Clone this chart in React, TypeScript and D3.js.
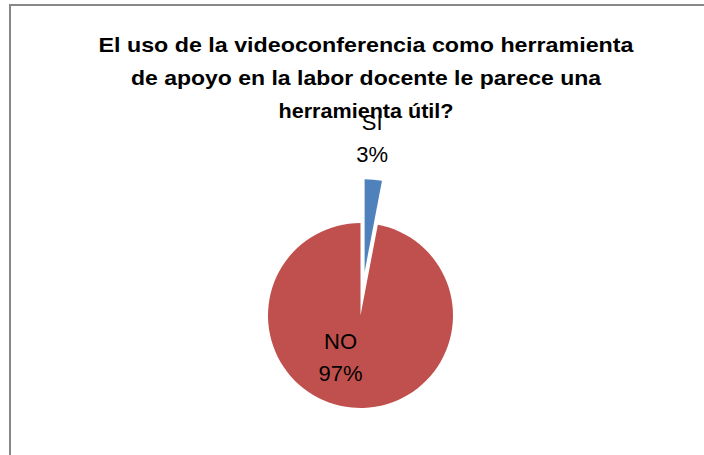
import React from "react";
import * as d3 from "d3";

const categories = ["SI", "NO"];
const values = [3, 97];
const percentLabels = ["3%", "97%"];
const colors = ["#4F81BD", "#C0504D"];
const titleLines = [
  "El uso de la videoconferencia como herramienta",
  "de apoyo en la labor docente le parece una",
  "herramienta útil?",
];
const titleWidths = [535, 470, 175];

export default function App() {
  const W = 704, H = 455;
  const cx = 360.5, cy = 315.5, r = 92.5;
  const explode = 44;
  const pie = d3.pie<number>().sort(null).value((d) => d);
  const arcs = pie(values);
  const arc = d3.arc<d3.PieArcDatum<number>>().innerRadius(0).outerRadius(r);
  const font = "'Liberation Sans', Arial, sans-serif";

  return (
    <svg width={W} height={H} style={{ position: "absolute", left: 0, top: 0, background: "#fff" }}>
      <rect x={0} y={0} width={W} height={H} fill="#fff" />
      <line x1={10} y1={5} x2={10} y2={H} stroke="#878787" strokeWidth={2} />
      <line x1={9} y1={5} x2={W} y2={5} stroke="#878787" strokeWidth={2} />
      {titleLines.map((t, i) => (
        <text key={i} x={366} y={52 + i * 33} textAnchor="middle" fontFamily={font}
          fontWeight="bold" fontSize={21} fill="#000" textLength={titleWidths[i]}
          lengthAdjust="spacingAndGlyphs">{t}</text>
      ))}
      <g transform={`translate(${cx},${cy})`}>
        {arcs.map((a, i) => {
          const mid = (a.startAngle + a.endAngle) / 2;
          const off = i === 0 ? explode : 0;
          const dx = Math.sin(mid) * off, dy = -Math.cos(mid) * off;
          return (
            <path key={i} d={arc(a) || ""} fill={colors[i]} transform={`translate(${dx},${dy})`} />
          );
        })}
        {arcs.map((a, i) => {
          const mid = (a.startAngle + a.endAngle) / 2;
          let lx: number, ly: number;
          if (i === 0) {
            const lr = 178;
            lx = Math.sin(mid) * lr - 5;
            ly = -Math.cos(mid) * lr;
          } else {
            const lr = 42;
            lx = Math.sin(mid) * lr - 16;
            ly = -Math.cos(mid) * lr;
          }
          return (
            <g key={"l" + i} fontFamily={font} fontSize={22} fill="#000" textAnchor="middle">
              <text x={lx} y={ly - 8}>{categories[i]}</text>
              <text x={lx} y={ly + 24}>{percentLabels[i]}</text>
            </g>
          );
        })}
      </g>
    </svg>
  );
}
